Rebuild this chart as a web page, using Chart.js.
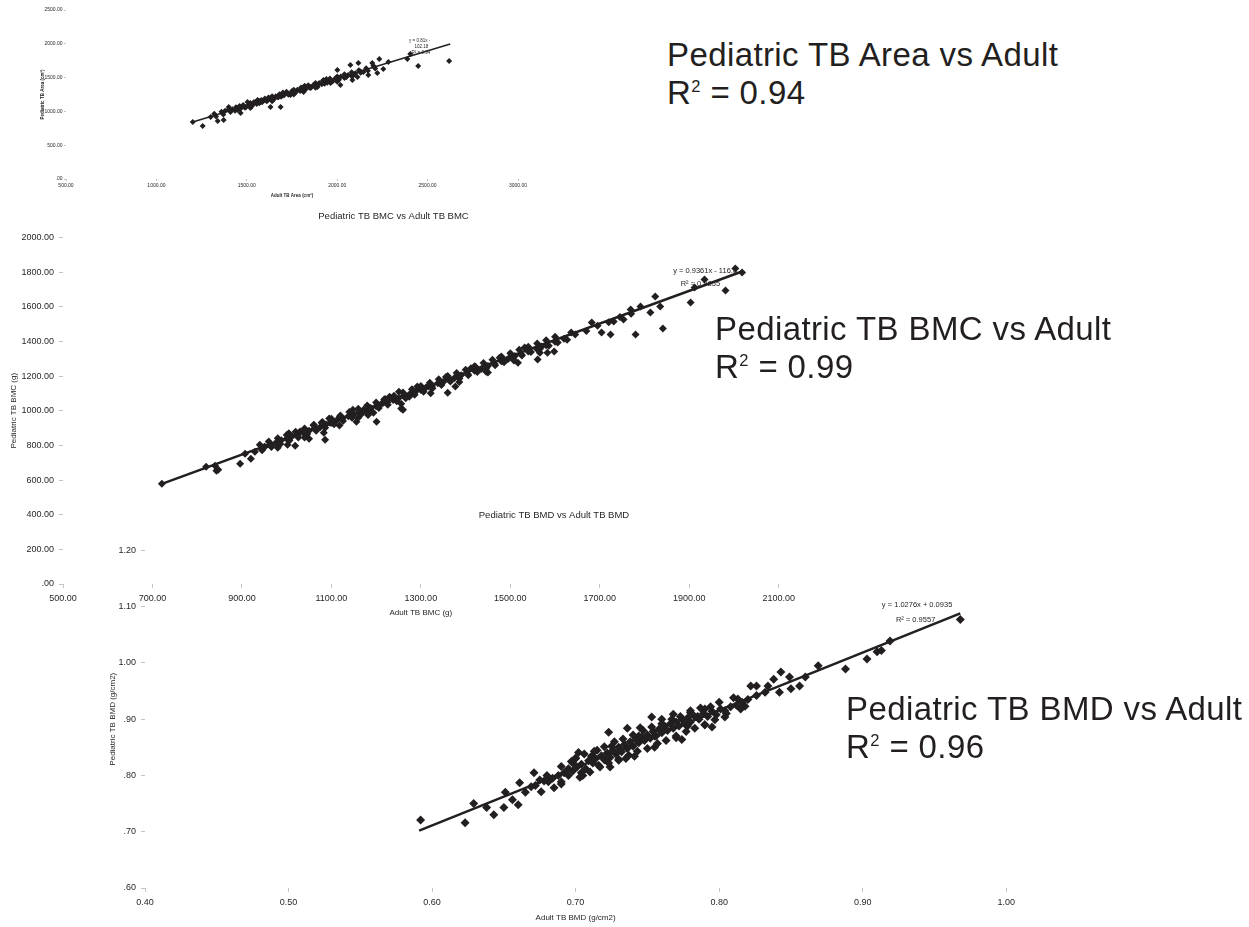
<!DOCTYPE html>
<html>
<head>
<meta charset="utf-8">
<title>Pediatric vs Adult TB</title>
<script src="https://cdn.jsdelivr.net/npm/chart.js@4.4.0/dist/chart.umd.min.js"></script>
<style>
    html, body { margin: 0; padding: 0; background: #fff; overflow: hidden; }
    body { width: 1249px; height: 927px; position: relative; }
    .plot { position: absolute; }
    .big {
        position: absolute;
        font-family: 'Liberation Sans', Arial, sans-serif;
        font-size: 33px;
        line-height: 38px;
        letter-spacing: 0.4px;
        color: #231f20;
        white-space: nowrap;
    }
    .big sup { font-size: 0.5em; line-height: 0; vertical-align: baseline; position: relative; top: -0.75em; }
</style>
</head>
<body>

<canvas id="areaChart" class="plot" width="540" height="200" style="left:0;top:0"></canvas>
<canvas id="bmcChart" class="plot" width="800" height="420" style="left:0;top:205px"></canvas>
<canvas id="bmdChart" class="plot" width="920" height="427" style="left:100px;top:504px"></canvas>

<div class="big" style="left:667px;top:36px">Pediatric TB Area vs Adult<br>R<sup>2</sup> = 0.94</div>
<div class="big" style="left:715px;top:310px">Pediatric TB BMC vs Adult<br>R<sup>2</sup> = 0.99</div>
<div class="big" style="left:846px;top:690px">Pediatric TB BMD vs Adult<br>R<sup>2</sup> = 0.96</div>

<script>
// --- Donnees : [adulte, pediatrique] ---

// TB Area (cm2)
const areaXTicks = [500, 1000, 1500, 2000, 2500, 3000];
const areaYTicks = [0, 500, 1000, 1500, 2000, 2500];
const areaPoints = [
    [1201, 843], [1256, 784], [1300, 917], [1339, 858], [1372, 873], [1400, 1065], [1438, 1021],
    [1466, 976], [1504, 1139], [1560, 1168], [1631, 1065], [1687, 1065], [1670, 1213], [1742, 1242],
    [1814, 1287], [1852, 1361], [1891, 1361], [1924, 1464], [1963, 1420], [2001, 1612], [2018, 1390],
    [2073, 1686], [2084, 1464], [2117, 1716], [2112, 1509], [2145, 1583], [2172, 1538], [2194, 1716],
    [2222, 1568], [2233, 1775], [2255, 1627], [2283, 1730], [2388, 1775], [2404, 1849], [2448, 1671],
    [2619, 1745],
    // bande dense
    [1420, 1030], [1435, 1010], [1450, 1050], [1465, 1040], [1480, 1075], [1495, 1060], [1510, 1100],
    [1525, 1085], [1540, 1125], [1555, 1110], [1570, 1150], [1585, 1135], [1600, 1175], [1615, 1160],
    [1630, 1200], [1645, 1185], [1660, 1225], [1675, 1210], [1690, 1250], [1705, 1235], [1720, 1275],
    [1735, 1255], [1750, 1300], [1765, 1280], [1780, 1320], [1795, 1300], [1810, 1345], [1825, 1325],
    [1840, 1370], [1855, 1350], [1870, 1395], [1885, 1375], [1900, 1420], [1915, 1400], [1930, 1445],
    [1945, 1425], [1960, 1470], [1975, 1445], [1990, 1490], [2005, 1470], [2020, 1515], [2040, 1495],
    [2060, 1540], [2080, 1520], [2100, 1565], [2130, 1590], [1460, 1080], [1520, 1050], [1580, 1170],
    [1640, 1150], [1700, 1280], [1760, 1250], [1820, 1380], [1880, 1350], [1940, 1480], [2000, 1440],
    [1320, 965], [1330, 925], [1360, 995], [1370, 955], [1400, 1030], [1410, 990], [1440, 1060],
    [1450, 1020], [1480, 1095], [1490, 1055], [1520, 1125], [1530, 1085], [1560, 1160], [1570, 1120],
    [1600, 1190], [1610, 1150], [1640, 1225], [1650, 1180], [1680, 1255], [1690, 1215], [1720, 1290],
    [1730, 1245], [1760, 1320], [1770, 1280], [1800, 1355], [1810, 1310], [1840, 1385], [1850, 1345],
    [1880, 1420], [1890, 1375], [1920, 1450], [1930, 1410], [1960, 1485], [1970, 1440], [2000, 1515],
    [2010, 1470], [2040, 1550], [2050, 1505], [2080, 1580], [2090, 1535], [2120, 1610], [2130, 1570],
    [2160, 1640], [2170, 1600], [2200, 1675], [2210, 1635], [1380, 1010], [1460, 1050], [1540, 1140],
    [1620, 1205]
];
const areaTrend = [[1201, 843], [2625, 1997]];
const areaFit = ['y = 0.81x -', '102.18', 'R\u00b2 = 0.94'];

// TB BMC (g)
const bmcXTicks = [500, 700, 900, 1100, 1300, 1500, 1700, 1900, 2100];
const bmcYTicks = [0, 200, 400, 600, 800, 1000, 1200, 1400, 1600, 1800, 2000];
const bmcPoints = [
    [721, 578], [820, 676], [840, 682], [843, 653], [847, 659], [896, 694], [907, 751], [920, 723],
    [929, 763], [951, 792], [964, 803], [980, 786], [1002, 803], [1019, 798], [1050, 838], [1061, 919],
    [1083, 873], [1086, 832], [1097, 931], [1119, 965], [1156, 936], [1172, 1006], [1201, 936],
    [1194, 988], [1216, 1046], [1251, 1110], [1256, 1012], [1274, 1081], [1260, 1006], [1318, 1139],
    [1360, 1104], [1377, 1139], [1422, 1254], [1450, 1220], [1503, 1312], [1517, 1277], [1561, 1295],
    [1570, 1370], [1583, 1335], [1598, 1341], [1627, 1410], [1636, 1451], [1682, 1509], [1704, 1451],
    [1724, 1439], [1731, 1514], [1753, 1526], [1769, 1584], [1780, 1439], [1791, 1601], [1813, 1566],
    [1824, 1659], [1841, 1474], [1835, 1601], [1903, 1624], [1912, 1711], [1934, 1757], [1981, 1694],
    [2003, 1821], [2018, 1798],
    // bande dense
    [950, 790], [962, 805], [975, 812], [988, 830], [1000, 838], [1012, 852], [1025, 860], [1038, 872],
    [1050, 885], [1062, 898], [1075, 905], [1088, 920], [1100, 930], [1112, 945], [1125, 955],
    [1138, 968], [1150, 978], [1162, 992], [1175, 1000], [1188, 1015], [1200, 1025], [1212, 1040],
    [1225, 1048], [1238, 1062], [1250, 1072], [1262, 1088], [1275, 1095], [1288, 1110], [1300, 1120],
    [1312, 1135], [1325, 1142], [1338, 1158], [1350, 1165], [1362, 1180], [1375, 1188], [1390, 1205],
    [1405, 1212], [1420, 1230], [1435, 1240], [1450, 1258], [1465, 1270], [1480, 1285], [1495, 1298],
    [1510, 1315], [1525, 1325], [1540, 1342], [1560, 1355], [1580, 1378], [1600, 1398], [1620, 1415],
    [1645, 1440], [1670, 1460], [1695, 1490], [1720, 1510], [1745, 1540], [1770, 1560],
    [1005, 870], [1040, 845], [1078, 930], [1118, 915], [1148, 1005], [1182, 975], [1218, 1065],
    [1256, 1040], [1292, 1140], [1322, 1100], [1356, 1195], [1386, 1165], [1412, 1245], [1446, 1225],
    [1476, 1305], [1508, 1290], [1532, 1365], [1566, 1335], [1030, 880], [1095, 955], [1160, 960],
    [1230, 1080],
    [940, 803], [945, 772], [960, 822], [966, 790], [980, 841], [986, 808], [1000, 860], [1006, 828],
    [1020, 878], [1026, 846], [1040, 897], [1046, 866], [1060, 916], [1066, 884], [1080, 935],
    [1086, 902], [1100, 954], [1106, 922], [1120, 973], [1126, 940], [1140, 992], [1146, 960],
    [1160, 1011], [1166, 978], [1180, 1030], [1186, 998], [1200, 1048], [1206, 1016], [1220, 1067],
    [1226, 1034], [1240, 1086], [1246, 1054], [1260, 1105], [1266, 1072], [1280, 1124], [1286, 1092],
    [1300, 1143], [1306, 1110], [1320, 1162], [1326, 1130], [1340, 1181], [1346, 1148], [1360, 1200],
    [1366, 1168], [1380, 1218], [1386, 1186], [1400, 1237], [1406, 1205], [1420, 1256], [1426, 1224],
    [1440, 1275], [1446, 1242], [1460, 1294], [1466, 1262], [1480, 1313], [1486, 1280], [1500, 1332],
    [1506, 1300], [1520, 1351], [1526, 1318], [1540, 1369], [1546, 1338], [1560, 1388], [1566, 1356],
    [1580, 1407], [1586, 1375], [1600, 1426], [1606, 1394]
];
const bmcTrend = [[721, 578], [2018, 1803]];
const bmcFit = ['y = 0.9361x - 116.8', 'R\u00b2 = 0.9855'];

// TB BMD (g/cm2)
const bmdXTicks = [0.4, 0.5, 0.6, 0.7, 0.8, 0.9, 1.0];
const bmdYTicks = [0.6, 0.7, 0.8, 0.9, 1.0, 1.1, 1.2];
const bmdPoints = [
    [0.592, 0.721], [0.623, 0.716], [0.629, 0.750], [0.638, 0.743], [0.643, 0.730], [0.650, 0.743],
    [0.651, 0.770], [0.656, 0.757], [0.660, 0.748], [0.661, 0.787], [0.669, 0.780], [0.671, 0.805],
    [0.676, 0.771], [0.681, 0.789], [0.690, 0.816], [0.690, 0.789], [0.697, 0.825], [0.702, 0.841],
    [0.704, 0.805], [0.711, 0.834], [0.723, 0.877], [0.725, 0.852], [0.730, 0.829], [0.736, 0.884],
    [0.741, 0.834], [0.744, 0.870], [0.753, 0.904], [0.755, 0.870], [0.762, 0.882], [0.768, 0.909],
    [0.774, 0.864], [0.778, 0.888], [0.785, 0.905], [0.790, 0.918], [0.795, 0.886], [0.804, 0.904],
    [0.813, 0.936], [0.818, 0.923], [0.822, 0.959], [0.826, 0.959], [0.834, 0.959], [0.838, 0.971],
    [0.843, 0.984], [0.842, 0.948], [0.849, 0.975], [0.850, 0.954], [0.856, 0.959], [0.860, 0.975],
    [0.869, 0.995], [0.888, 0.989], [0.903, 1.007], [0.910, 1.020], [0.913, 1.022], [0.919, 1.039],
    [0.968, 1.077],
    // bande dense
    [0.665, 0.770], [0.672, 0.782], [0.678, 0.790], [0.684, 0.795], [0.688, 0.800], [0.692, 0.805],
    [0.695, 0.812], [0.698, 0.808], [0.701, 0.815], [0.704, 0.820], [0.707, 0.812], [0.709, 0.826],
    [0.712, 0.822], [0.714, 0.830], [0.716, 0.818], [0.718, 0.835], [0.720, 0.828], [0.722, 0.840],
    [0.724, 0.832], [0.726, 0.845], [0.728, 0.838], [0.730, 0.850], [0.732, 0.842], [0.734, 0.855],
    [0.736, 0.848], [0.738, 0.860], [0.740, 0.852], [0.742, 0.865], [0.744, 0.858], [0.746, 0.868],
    [0.748, 0.862], [0.750, 0.872], [0.752, 0.866], [0.754, 0.878], [0.756, 0.870], [0.758, 0.882],
    [0.760, 0.876], [0.762, 0.888], [0.764, 0.880], [0.766, 0.892], [0.768, 0.884], [0.770, 0.895],
    [0.772, 0.888], [0.774, 0.900], [0.776, 0.892], [0.778, 0.902], [0.780, 0.895], [0.783, 0.905],
    [0.786, 0.900], [0.789, 0.910], [0.792, 0.905], [0.795, 0.914], [0.798, 0.908], [0.801, 0.918],
    [0.804, 0.915], [0.808, 0.922], [0.812, 0.925], [0.816, 0.930], [0.820, 0.935], [0.826, 0.942],
    [0.832, 0.948], [0.724, 0.815], [0.735, 0.830], [0.745, 0.885], [0.755, 0.850], [0.715, 0.845],
    [0.705, 0.800], [0.690, 0.785], [0.700, 0.830], [0.760, 0.900], [0.770, 0.870], [0.780, 0.915],
    [0.790, 0.890],
    [0.700, 0.831], [0.703, 0.797], [0.706, 0.838], [0.710, 0.806], [0.713, 0.843], [0.717, 0.815],
    [0.720, 0.851], [0.723, 0.822], [0.727, 0.860], [0.730, 0.827], [0.733, 0.865], [0.737, 0.836],
    [0.740, 0.872], [0.743, 0.843], [0.747, 0.880], [0.750, 0.848], [0.753, 0.886], [0.757, 0.857],
    [0.760, 0.892], [0.763, 0.862], [0.767, 0.900], [0.770, 0.867], [0.773, 0.905], [0.777, 0.878],
    [0.780, 0.912], [0.783, 0.884], [0.787, 0.920], [0.790, 0.890], [0.794, 0.922], [0.797, 0.899],
    [0.800, 0.930], [0.805, 0.910], [0.810, 0.938], [0.815, 0.918], [0.680, 0.800], [0.685, 0.778],
    [0.675, 0.792], [0.695, 0.800], [0.698, 0.822]
];
const bmdTrend = [[0.591, 0.702], [0.968, 1.088]];
const bmdFit = ['y = 1.0276x + 0.0935', 'R\u00b2 = 0.9557'];

// --- Rendu ---
const INK = '#231f20';
const FONT = "'Liberation Sans', Arial, sans-serif";

// style SPSS : .00, .90, 1.00
function spssLabel(v) {
    const s = Number(v).toFixed(2);
    return s.startsWith('0.') ? s.slice(1) : s;
}

// equation de la droite, ancree sur l'extremite de la tendance
const fitLabel = {
    id: 'fitLabel',
    afterDatasetsDraw(chart, args, opts) {
        if (!opts.lines) return;
        const { ctx, scales } = chart;
        const px = scales.x.getPixelForValue(opts.anchor[0]);
        const py = scales.y.getPixelForValue(opts.anchor[1]);
        ctx.save();
        ctx.fillStyle = INK;
        ctx.font = opts.size + 'px ' + FONT;
        ctx.textAlign = 'right';
        ctx.textBaseline = 'middle';
        opts.lines.forEach((t, i) => ctx.fillText(t, px + opts.offsets[i][0], py + opts.offsets[i][1]));
        ctx.restore();
    }
};

const Plots = {
    make(canvasId, c) {
        const ctx = document.getElementById(canvasId);
        const tickGrid = { display: true, drawOnChartArea: false, drawTicks: true, tickLength: c.tickLen, color: '#c4c4c4' };
        return new Chart(ctx, {
            type: 'scatter',
            data: {
                datasets: [
                    {
                        data: c.trend.map(p => ({ x: p[0], y: p[1] })),
                        showLine: true,
                        borderColor: INK,
                        borderWidth: c.lineWidth,
                        pointRadius: 0,
                        order: 2
                    },
                    {
                        data: c.points.map(p => ({ x: p[0], y: p[1] })),
                        pointStyle: 'rectRot',
                        pointRadius: c.radius,
                        backgroundColor: INK,
                        borderWidth: 0,
                        order: 1
                    }
                ]
            },
            options: {
                responsive: false,
                animation: false,
                devicePixelRatio: 1,
                layout: { autoPadding: false, padding: c.padding },
                plugins: {
                    legend: { display: false },
                    tooltip: { enabled: false },
                    title: {
                        display: !!c.title,
                        text: c.title,
                        color: INK,
                        font: { family: FONT, size: 9.5, weight: 'normal', lineHeight: 1.2 },
                        padding: c.titlePad
                    },
                    fitLabel: { lines: c.fit, anchor: c.trend[1], offsets: c.fitOffsets, size: c.fitSize }
                },
                scales: {
                    x: {
                        type: 'linear',
                        min: c.xTicks[0],
                        max: c.xTicks[c.xTicks.length - 1],
                        afterBuildTicks: s => { s.ticks = c.xTicks.map(v => ({ value: v })); },
                        afterFit: s => { s.height = c.xHeight; },
                        grid: tickGrid,
                        border: { display: false },
                        ticks: {
                            autoSkip: false, maxRotation: 0, padding: c.tickPad, color: INK,
                            font: { family: FONT, size: c.tickSize },
                            callback: v => Number(v).toFixed(2)
                        },
                        title: {
                            display: true, text: c.xTitle, color: INK,
                            font: { family: FONT, size: c.axisSize, weight: c.axisWeight },
                            padding: c.xTitlePad
                        }
                    },
                    y: {
                        type: 'linear',
                        min: c.yTicks[0],
                        max: c.yTicks[c.yTicks.length - 1],
                        afterBuildTicks: s => { s.ticks = c.yTicks.map(v => ({ value: v })); },
                        afterFit: s => { s.width = c.yWidth; },
                        grid: tickGrid,
                        border: { display: false },
                        ticks: {
                            autoSkip: false, padding: c.tickPad, color: INK,
                            font: { family: FONT, size: c.tickSize },
                            callback: v => spssLabel(v)
                        },
                        title: {
                            display: true, text: c.yTitle, color: INK,
                            font: { family: FONT, size: c.axisSize, weight: c.axisWeight },
                            padding: c.yTitlePad
                        }
                    }
                }
            },
            plugins: [fitLabel]
        });
    }
};

// petit graphique du haut : surface
Plots.make('areaChart', {
    points: areaPoints, trend: areaTrend, xTicks: areaXTicks, yTicks: areaYTicks,
    fit: areaFit, fitOffsets: [[-20, -3], [-22, 3], [-20, 9]], fitSize: 4.5,
    title: '', titlePad: 0,
    xTitle: 'Adult TB Area (cm\u00b2)', yTitle: 'Pediatric TB Area (cm\u00b2)',
    radius: 3, lineWidth: 1.5, tickLen: 2, tickPad: 1.5, tickSize: 5,
    axisSize: 4.5, axisWeight: 'bold',
    xTitlePad: { top: 1, bottom: 2 }, yTitlePad: { top: 2, bottom: 2 },
    xHeight: 21, yWidth: 28,
    padding: { left: 38, top: 10, right: 22, bottom: 0 }
});

// BMC
Plots.make('bmcChart', {
    points: bmcPoints, trend: bmcTrend, xTicks: bmcXTicks, yTicks: bmcYTicks,
    fit: bmcFit, fitOffsets: [[-5, -1], [-22, 12]], fitSize: 7.5,
    title: 'Pediatric TB BMC vs Adult TB BMC', titlePad: { top: 6, bottom: 15 },
    xTitle: 'Adult TB BMC (g)', yTitle: 'Pediatric TB BMC (g)',
    radius: 4, lineWidth: 2.5, tickLen: 4, tickPad: 5, tickSize: 9,
    axisSize: 8, axisWeight: 'normal',
    xTitlePad: { top: 7, bottom: 7 }, yTitlePad: { top: 9, bottom: 9 },
    xHeight: 41, yWidth: 63,
    padding: { left: 0, top: 0, right: 13, bottom: 0 }
});

// BMD
Plots.make('bmdChart', {
    points: bmdPoints, trend: bmdTrend, xTicks: bmdXTicks, yTicks: bmdYTicks,
    fit: bmdFit, fitOffsets: [[-8, -8], [-25, 7]], fitSize: 7.5,
    title: 'Pediatric TB BMD vs Adult TB BMD', titlePad: { top: 6, bottom: 29 },
    xTitle: 'Adult TB BMD (g/cm2)', yTitle: 'Pediatric TB BMD (g/cm2)',
    radius: 4.5, lineWidth: 2.5, tickLen: 4, tickPad: 5, tickSize: 9,
    axisSize: 8, axisWeight: 'normal',
    xTitlePad: { top: 7, bottom: 8 }, yTitlePad: { top: 8, bottom: 8 },
    xHeight: 43, yWidth: 45,
    padding: { left: 0, top: 0, right: 12, bottom: 0 }
});
</script>
</body>
</html>
